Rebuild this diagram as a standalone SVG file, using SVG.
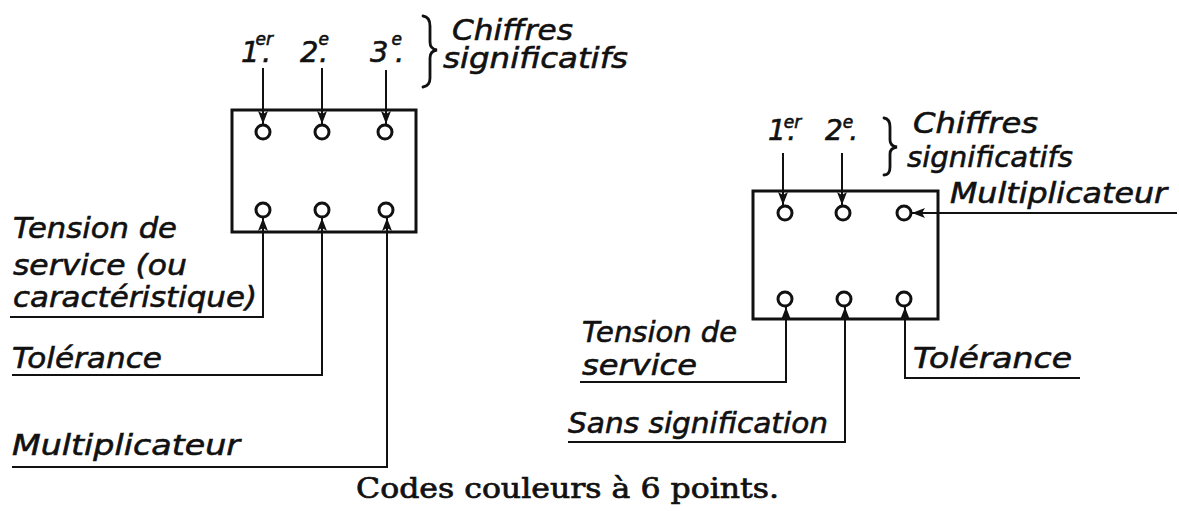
<svg xmlns="http://www.w3.org/2000/svg" width="1179" height="511" viewBox="0 0 1179 511">
<style>
.lbl{font-family:"DejaVu Sans","Liberation Sans",sans-serif;font-style:oblique;font-size:28px;fill:#111;stroke:#111;stroke-width:0.6}
.big{font-size:29px}
.sup{font-size:17px}
.box{fill:none;stroke:#111;stroke-width:3}
.pin{fill:#fff;stroke:#111;stroke-width:3}
.ln{fill:none;stroke:#111;stroke-width:2;marker-end:url(#ah)}
.brace{fill:none;stroke:#111;stroke-width:2.8;stroke-linecap:round}
.cap{font-family:"DejaVu Serif","Liberation Serif",serif;font-size:27px;fill:#111;stroke:#111;stroke-width:0.7}
</style>
<defs>
<marker id="ah" viewBox="0 0 13 10" refX="13" refY="5" markerWidth="13" markerHeight="10" markerUnits="userSpaceOnUse" orient="auto">
<path d="M0,0 L13,5 L0,10 L3,5 z" fill="#111"/>
</marker>
</defs>

<g id="connectors">
<path class="ln" d="M263,68 V124"/>
<path class="ln" d="M322,68 V124"/>
<path class="ln" d="M386,70 V124"/>
<path class="ln" d="M10,317 H263 V218"/>
<path class="ln" d="M12,375 H322 V218"/>
<path class="ln" d="M12,467 H387 V218"/>
<path class="ln" d="M783,153 V205"/>
<path class="ln" d="M842,153 V205"/>
<path class="ln" d="M1177,213 H912"/>
<path class="ln" d="M580,382 H786 V307"/>
<path class="ln" d="M568,442 H845 V307"/>
<path class="ln" d="M1080,378 H905 V307"/>
</g>

<g id="box-left">
<rect class="box" x="232" y="110" width="184" height="122"/>
<circle class="pin" cx="263" cy="132" r="7"/>
<circle class="pin" cx="322" cy="132" r="7"/>
<circle class="pin" cx="385" cy="132" r="7"/>
<circle class="pin" cx="263" cy="210" r="7"/>
<circle class="pin" cx="322" cy="210" r="7"/>
<circle class="pin" cx="386" cy="210" r="7"/>
</g>

<g id="labels-left-top">
<text class="lbl big" x="241" y="62">1<tspan class="sup" dx="-4" dy="-17">er</tspan><tspan dx="-11" dy="17">.</tspan></text>
<text class="lbl big" x="300" y="62">2<tspan class="sup" dy="-17">e</tspan><tspan dx="-10" dy="17">.</tspan></text>
<text class="lbl big" x="370" y="62">3<tspan class="sup" dx="3" dy="-17">e</tspan><tspan dx="-7" dy="17">.</tspan></text>
<path class="brace" d="M423,16 Q430,17 430,26 L430,42 Q430,49 437,50 Q430,51 430,58 L430,78 Q430,86 423,87"/>
<text class="lbl big" x="452" y="40" textLength="121" lengthAdjust="spacingAndGlyphs">Chiffres</text>
<text class="lbl big" x="443" y="68" textLength="185" lengthAdjust="spacingAndGlyphs">significatifs</text>
</g>

<g id="labels-left-bottom">
<text class="lbl big" x="13" y="238" textLength="164" lengthAdjust="spacingAndGlyphs">Tension de</text>
<text class="lbl big" x="13" y="275" textLength="174" lengthAdjust="spacingAndGlyphs">service (ou</text>
<text class="lbl big" x="13" y="307" textLength="244" lengthAdjust="spacingAndGlyphs">caractéristique)</text>
<text class="lbl big" x="12" y="368" textLength="150" lengthAdjust="spacingAndGlyphs">Tolérance</text>
<text class="lbl big" x="12" y="455" textLength="228" lengthAdjust="spacingAndGlyphs">Multiplicateur</text>
</g>

<g id="box-right">
<rect class="box" x="753" y="191" width="185" height="128"/>
<circle class="pin" cx="785" cy="213" r="7"/>
<circle class="pin" cx="843" cy="213" r="7"/>
<circle class="pin" cx="904" cy="213" r="7"/>
<circle class="pin" cx="785" cy="299" r="7"/>
<circle class="pin" cx="844" cy="299" r="7"/>
<circle class="pin" cx="904" cy="299" r="7"/>
</g>

<g id="labels-right-top">
<text class="lbl" x="768" y="140">1<tspan class="sup" dx="-2" dy="-12">er</tspan><tspan dx="-14" dy="12">.</tspan></text>
<text class="lbl" x="825" y="140">2<tspan class="sup" dy="-12">e</tspan><tspan dx="-4" dy="12">.</tspan></text>
<path class="brace" d="M884,118 Q890,119 890,127 L890,140 Q890,146 897,147 Q890,148 890,154 L890,167 Q890,175 884,175"/>
<text class="lbl" x="913" y="133" textLength="125" lengthAdjust="spacingAndGlyphs">Chiffres</text>
<text class="lbl" x="907" y="167" textLength="166" lengthAdjust="spacingAndGlyphs">significatifs</text>
<text class="lbl" x="950" y="203" textLength="217" lengthAdjust="spacingAndGlyphs">Multiplicateur</text>
</g>

<g id="labels-right-bottom">
<text class="lbl" x="582" y="342" textLength="155" lengthAdjust="spacingAndGlyphs">Tension de</text>
<text class="lbl" x="582" y="375" textLength="115" lengthAdjust="spacingAndGlyphs">service</text>
<text class="lbl" x="568" y="433" textLength="260" lengthAdjust="spacingAndGlyphs">Sans signification</text>
<text class="lbl" x="913" y="368" textLength="159" lengthAdjust="spacingAndGlyphs">Tolérance</text>
</g>

<g id="caption">
<text class="cap" x="356" y="498" textLength="423" lengthAdjust="spacingAndGlyphs">Codes couleurs à 6 points.</text>
</g>
</svg>
